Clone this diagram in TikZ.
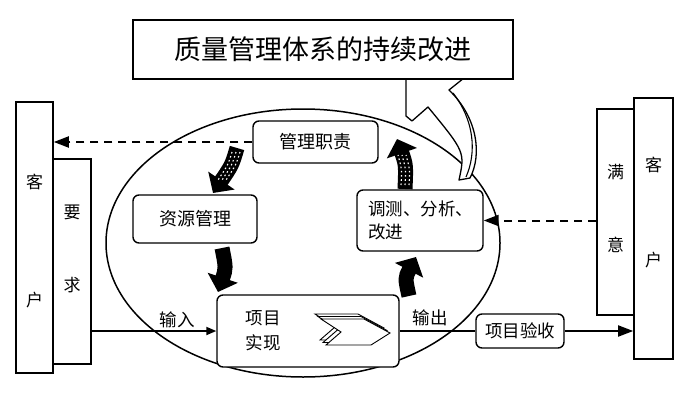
\documentclass[tikz,border=0pt]{standalone}
\usepackage{fontspec}
\newfontfamily\cjk{Noto Sans CJK SC}
\usetikzlibrary{arrows.meta}
\tikzset{
  box/.style={draw, line width=1.4pt, rounded corners=6pt, fill=white, inner sep=0pt, align=center,
    font=\cjk\fontsize{18}{22}\selectfont},
  sidebox/.style={draw, line width=1.6pt, fill=white, inner sep=0pt},
  sidechar/.style={font=\cjk\fontsize{17}{20}\selectfont, inner sep=0pt},
  lbl/.style={font=\cjk\fontsize{17.5}{20}\selectfont, inner sep=0pt},
  dsh/.style={line width=2pt, dash pattern=on 8pt off 6pt},
  tipbig/.style={-{Triangle[length=15pt,width=11pt]}},
  tipsmall/.style={-{Triangle[length=10pt,width=8pt]}},
  fatarrow/.style={line width=15pt, black, -{Triangle[length=15pt,width=31pt]}},
  speck/.style={white, line width=1.1pt, dash pattern=on 1.6pt off 2.6pt},
  chev/.style={draw, fill=white, line width=0.9pt, line join=miter}
}
\begin{document}
\begin{tikzpicture}[x=1pt,y=-1pt]
\useasboundingbox (0,0) rectangle (700,404);

% ellipse
\draw[line width=1.5pt] (303,243) ellipse [x radius=197, y radius=134];

% side boxes left
\node[sidebox, minimum width=38pt, minimum height=205pt] (req) at (72,261.5) {};
\node[sidebox, minimum width=37pt, minimum height=271pt] (custL) at (34.5,237.5) {};
\node[sidechar] (custLa) at (34.5,182) {客};
\node[sidechar] (custLb) at (34.5,300) {户};
\node[sidechar] (reqa) at (72,212) {要};
\node[sidechar] (reqb) at (72,285) {求};

% side boxes right
\node[sidebox, minimum width=37pt, minimum height=206pt] (sat) at (615.5,212) {};
\node[sidebox, minimum width=39pt, minimum height=261pt] (custR) at (653.5,228.5) {};
\node[sidechar] (sata) at (615.5,172) {满};
\node[sidechar] (satb) at (615.5,245) {意};
\node[sidechar] (custRa) at (653.5,165) {客};
\node[sidechar] (custRb) at (653.5,260) {户};

% inner boxes
\node[box, minimum width=125pt, minimum height=42pt] (mgmt) at (315.5,142) {管理职责};
\node[box, minimum width=124pt, minimum height=48pt] (res) at (195,219) {资源管理};
\node[box, minimum width=126pt, minimum height=61pt, text width=104pt, align=left,
      font=\cjk\fontsize{17.5}{23}\selectfont] (test) at (420,220.5) {调测、分析、\\改进};
\node[box, minimum width=182pt, minimum height=72pt] (proj) at (308,331) {};
\node[lbl, align=left, font=\cjk\fontsize{17.5}{25}\selectfont] (projt) at (263,330.5) {项目\\实现};
\node[box, minimum width=88pt, minimum height=34pt, font=\cjk\fontsize{17.5}{20}\selectfont] (acc) at (520,331) {项目验收};

% chevron icon
\foreach \d in {2,1,0}{
  \draw[chev, shift={(-3*\d,-2.5*\d)}]
    (321,319) -- (364,319) -- (390,333) -- (371,345) -- (326,345) -- (341,332) -- cycle;
}

% curved hollow arrow to title
\draw[line width=1.3pt, fill=white, line join=round]
  (459,180) .. controls (465,152) .. (428,107) -- (412,121) -- (406,116) -- (406,60)
  -- (430,45) -- (458,74) -- (464,78) -- (449,90)
  .. controls (478,118) and (482,155) .. (470,178) -- cycle;
\draw[line width=1.1pt] (453,93) .. controls (474,120) and (477,152) .. (466,177);

% title box
\node[draw, line width=2.4pt, fill=white, minimum width=380pt, minimum height=59pt, inner sep=0pt,
      font=\cjk\fontsize{27}{30}\selectfont] (title) at (323,49.5) {质量管理体系的持续改进};

% dashed connectors
\draw[dsh, tipbig] (mgmt.west) -- (mgmt.west -| custL.east);
\draw[dsh, tipbig] (test.east -| sat.west) -- (test.east);

% solid connectors
\draw[line width=1.8pt, tipsmall] (req.east |- proj.west) -- (proj.west);
\draw[line width=1.8pt] (proj.east) -- (acc.west);
\draw[line width=1.8pt, tipbig] (acc.east) -- (acc.east -| custR.west);
\node[lbl] (inlbl) at (177,320) {输入};
\node[lbl] (outlbl) at (430,318) {输出};

% fat arrows
\coordinate (a1s) at (237,148);
\coordinate (a1e) at (213,193);
\coordinate (a2s) at (222,248);
\coordinate (a2e) at (218,292);
\coordinate (a3s) at (409,296);
\coordinate (a3e) at (416,257);
\coordinate (a4s) at (405,189);
\coordinate (a4e) at (397,139);
\draw[fatarrow] (a1s) .. controls (232,165) .. (a1e);
\draw[fatarrow] (a2s) .. controls (226,268) .. (a2e);
\draw[fatarrow] (a3s) .. controls (405,278) .. (a3e);
\draw[fatarrow] (a4s) .. controls (406,165) .. (a4e);
% speckles on hatched arrows
\foreach \s in {-4,0,4}{
  \draw[speck, shift={(\s,0)}] (236,152) .. controls (232,165) .. (222,180);
  \draw[speck, shift={(\s,0)}] (405,185) .. controls (406,170) .. (402,155);
}
\end{tikzpicture}
\end{document}
